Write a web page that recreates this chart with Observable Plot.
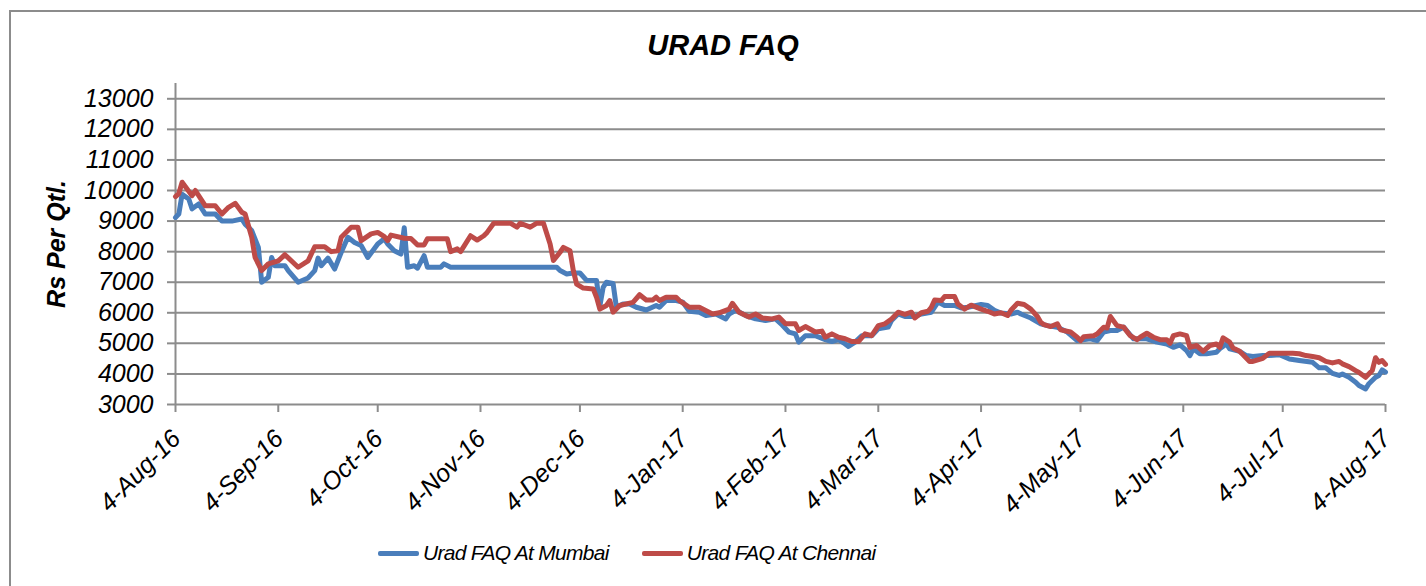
<!DOCTYPE html>
<html><head><meta charset="utf-8">
<script src="https://cdn.jsdelivr.net/npm/d3@7"></script>
<script src="https://cdn.jsdelivr.net/npm/@observablehq/plot@0.6"></script>
<style>
html,body{margin:0;padding:0;background:#fff;overflow:hidden}
#wrap{position:relative;width:1426px;height:586px;font-family:"Liberation Sans",Arial,sans-serif;overflow:hidden}
#frame{position:absolute;left:9px;top:10px;width:1500px;height:800px;border:2px solid #8c8c8c;box-sizing:border-box;pointer-events:none}
#title{width:1426px;height:70px;box-sizing:border-box;padding-top:29px;padding-left:20px;text-align:center;font-size:29px;font-weight:bold;font-style:italic;color:#000;line-height:normal}
#chart{height:450px}
#chart svg{display:block}
#chart svg text{font-style:italic}
#legend{height:66px;display:flex;align-items:center;padding-left:378px;box-sizing:border-box;font-size:21px;letter-spacing:-0.7px;font-style:italic;color:#000}
.item{display:flex;align-items:center;margin-right:33px}
.sw{display:inline-block;width:41px;height:5px;border-radius:2px;margin-right:4px}
</style>
</head><body>
<div id="wrap">
<div id="frame"></div>
<div id="title"></div>
<div id="chart"></div>
<div id="legend"></div>
</div>
<script>
const titleText = "URAD FAQ";
const yLabel = "Rs Per Qtl.";
const seriesNames = ["Urad FAQ At Mumbai", "Urad FAQ At Chennai"];
const seriesColors = ["#4a7ebb", "#be4b48"];
const yTicks = [3000,4000,5000,6000,7000,8000,9000,10000,11000,12000,13000];
const xTicks = ["2016-08-04","2016-09-04","2016-10-04","2016-11-04","2016-12-04","2017-01-04","2017-02-04","2017-03-04","2017-04-04","2017-05-04","2017-06-04","2017-07-04","2017-08-04"];

const mumbaiDates = ["2016-08-04","2016-08-05","2016-08-06","2016-08-08","2016-08-09","2016-08-11","2016-08-13","2016-08-16","2016-08-18","2016-08-21","2016-08-24","2016-08-25","2016-08-27","2016-08-29","2016-08-30","2016-09-01","2016-09-02","2016-09-03","2016-09-06","2016-09-07","2016-09-10","2016-09-13","2016-09-15","2016-09-16","2016-09-17","2016-09-19","2016-09-21","2016-09-23","2016-09-25","2016-09-27","2016-09-29","2016-10-01","2016-10-03","2016-10-04","2016-10-06","2016-10-07","2016-10-09","2016-10-11","2016-10-12","2016-10-13","2016-10-15","2016-10-16","2016-10-18","2016-10-19","2016-10-23","2016-10-24","2016-10-26","2016-11-27","2016-11-28","2016-11-30","2016-12-02","2016-12-04","2016-12-06","2016-12-09","2016-12-10","2016-12-11","2016-12-12","2016-12-14","2016-12-15","2016-12-17","2016-12-19","2016-12-21","2016-12-24","2016-12-27","2016-12-28","2016-12-30","2017-01-02","2017-01-04","2017-01-06","2017-01-09","2017-01-11","2017-01-14","2017-01-17","2017-01-18","2017-01-20","2017-01-23","2017-01-26","2017-01-29","2017-02-01","2017-02-03","2017-02-05","2017-02-07","2017-02-08","2017-02-10","2017-02-13","2017-02-16","2017-02-18","2017-02-20","2017-02-22","2017-02-23","2017-02-25","2017-02-27","2017-03-02","2017-03-04","2017-03-07","2017-03-08","2017-03-10","2017-03-12","2017-03-15","2017-03-17","2017-03-20","2017-03-22","2017-03-24","2017-03-27","2017-03-29","2017-03-31","2017-04-04","2017-04-06","2017-04-08","2017-04-10","2017-04-13","2017-04-15","2017-04-16","2017-04-19","2017-04-22","2017-04-24","2017-04-27","2017-04-30","2017-05-03","2017-05-07","2017-05-09","2017-05-11","2017-05-13","2017-05-15","2017-05-17","2017-05-20","2017-05-24","2017-05-27","2017-05-30","2017-06-01","2017-06-03","2017-06-05","2017-06-06","2017-06-07","2017-06-09","2017-06-11","2017-06-14","2017-06-15","2017-06-17","2017-06-18","2017-06-21","2017-06-23","2017-06-25","2017-06-28","2017-06-30","2017-07-03","2017-07-06","2017-07-09","2017-07-13","2017-07-15","2017-07-17","2017-07-19","2017-07-21","2017-07-22","2017-07-24","2017-07-26","2017-07-27","2017-07-29","2017-07-30","2017-08-01","2017-08-02","2017-08-03","2017-08-04"];
const mumbaiValues = [9120,9230,9880,9720,9400,9560,9230,9230,9000,9000,9070,8900,8690,8140,7000,7160,7810,7540,7540,7380,7000,7140,7380,7790,7540,7790,7430,7980,8470,8300,8200,7810,8100,8250,8420,8250,8030,7920,8780,7490,7540,7460,7870,7490,7490,7600,7490,7490,7380,7270,7300,7300,7060,7060,6210,6830,7000,6960,6180,6290,6290,6180,6090,6240,6180,6400,6400,6350,6050,6020,5910,5960,5800,5960,6080,5910,5800,5750,5800,5600,5370,5310,5040,5250,5250,5120,5060,5120,4980,4900,5040,5250,5250,5480,5530,5750,5960,5880,5880,5960,6020,6350,6240,6240,6160,6180,6270,6240,6080,5990,5960,6020,5960,5830,5640,5580,5530,5370,5090,5150,5090,5370,5420,5420,5530,5150,5150,5040,4980,4870,4950,4760,4600,4820,4660,4660,4710,4820,4980,4820,4740,4600,4570,4600,4600,4630,4490,4440,4380,4200,4200,4020,3950,4000,3890,3730,3620,3510,3680,3890,3950,4130,4060];

const chennaiDates = ["2016-08-04","2016-08-05","2016-08-06","2016-08-09","2016-08-10","2016-08-13","2016-08-16","2016-08-18","2016-08-20","2016-08-22","2016-08-24","2016-08-25","2016-08-27","2016-08-28","2016-08-30","2016-09-01","2016-09-04","2016-09-06","2016-09-10","2016-09-13","2016-09-15","2016-09-18","2016-09-20","2016-09-22","2016-09-23","2016-09-26","2016-09-28","2016-09-29","2016-10-02","2016-10-04","2016-10-06","2016-10-07","2016-10-08","2016-10-12","2016-10-14","2016-10-16","2016-10-18","2016-10-19","2016-10-25","2016-10-26","2016-10-28","2016-10-29","2016-11-01","2016-11-03","2016-11-05","2016-11-06","2016-11-08","2016-11-13","2016-11-15","2016-11-16","2016-11-19","2016-11-21","2016-11-23","2016-11-25","2016-11-26","2016-11-28","2016-11-29","2016-12-01","2016-12-02","2016-12-03","2016-12-05","2016-12-08","2016-12-09","2016-12-10","2016-12-12","2016-12-13","2016-12-14","2016-12-16","2016-12-20","2016-12-22","2016-12-24","2016-12-26","2016-12-27","2016-12-28","2016-12-30","2017-01-02","2017-01-03","2017-01-06","2017-01-09","2017-01-13","2017-01-15","2017-01-18","2017-01-19","2017-01-21","2017-01-24","2017-01-26","2017-01-28","2017-01-31","2017-02-02","2017-02-04","2017-02-07","2017-02-08","2017-02-10","2017-02-13","2017-02-15","2017-02-16","2017-02-18","2017-02-20","2017-02-22","2017-02-24","2017-02-26","2017-02-28","2017-03-02","2017-03-04","2017-03-06","2017-03-08","2017-03-10","2017-03-12","2017-03-14","2017-03-15","2017-03-17","2017-03-19","2017-03-20","2017-03-21","2017-03-23","2017-03-24","2017-03-27","2017-03-28","2017-03-30","2017-04-01","2017-04-04","2017-04-06","2017-04-08","2017-04-10","2017-04-12","2017-04-13","2017-04-15","2017-04-17","2017-04-19","2017-04-21","2017-04-22","2017-04-23","2017-04-25","2017-04-27","2017-04-28","2017-05-01","2017-05-03","2017-05-04","2017-05-05","2017-05-08","2017-05-09","2017-05-11","2017-05-12","2017-05-13","2017-05-15","2017-05-17","2017-05-19","2017-05-21","2017-05-22","2017-05-24","2017-05-26","2017-05-28","2017-05-30","2017-05-31","2017-06-01","2017-06-03","2017-06-05","2017-06-06","2017-06-08","2017-06-10","2017-06-12","2017-06-14","2017-06-15","2017-06-16","2017-06-18","2017-06-19","2017-06-21","2017-06-24","2017-06-25","2017-06-28","2017-06-30","2017-07-03","2017-07-07","2017-07-09","2017-07-11","2017-07-13","2017-07-15","2017-07-17","2017-07-19","2017-07-21","2017-07-22","2017-07-24","2017-07-26","2017-07-27","2017-07-29","2017-07-31","2017-08-01","2017-08-02","2017-08-03","2017-08-04"];
const chennaiValues = [9800,9900,10270,9830,10000,9500,9500,9230,9450,9580,9290,9230,8470,7810,7380,7600,7700,7900,7490,7700,8160,8160,8000,8030,8470,8800,8800,8360,8580,8630,8490,8360,8540,8440,8430,8220,8220,8420,8420,8000,8090,8000,8520,8380,8520,8630,8930,8930,8800,8930,8800,8930,8930,8250,7710,7980,8140,8030,7380,6940,6810,6780,6510,6120,6240,6400,6020,6240,6340,6590,6420,6420,6510,6400,6510,6510,6400,6180,6180,5960,6000,6120,6310,6020,5860,5960,5830,5800,5860,5640,5640,5420,5550,5370,5400,5200,5310,5200,5150,5060,5060,5310,5250,5580,5640,5800,6020,5950,6020,5830,6000,6050,6180,6420,6400,6530,6530,6290,6120,6250,6120,6050,5960,6000,5910,6080,6310,6270,6120,5880,5690,5610,5550,5640,5440,5370,5200,5090,5220,5250,5310,5530,5500,5880,5580,5530,5250,5120,5200,5330,5200,5120,5120,5000,5250,5310,5250,4870,4930,4740,4930,4980,4870,5180,5040,4850,4740,4410,4410,4510,4680,4680,4680,4660,4600,4570,4530,4410,4360,4410,4330,4240,4110,4050,3890,4110,4530,4380,4440,4310];

const mumbai = mumbaiDates.map((d, i) => ({date: new Date(d), value: mumbaiValues[i]}));
const chennai = chennaiDates.map((d, i) => ({date: new Date(d), value: chennaiValues[i]}));
const gridColor = "#8c8c8c";
const xTickDates = xTicks.map(d => new Date(d));

const chart = Plot.plot({
  width: 1426,
  height: 450,
  marginLeft: 175,
  marginRight: 41,
  marginTop: 13,
  marginBottom: 116,
  style: {fontFamily: "'Liberation Sans', Arial, sans-serif", background: "transparent", color: "#000"},
  x: {type: "utc", domain: [xTickDates[0], xTickDates[xTickDates.length - 1]]},
  y: {domain: [3000, 13500]},
  marks: [
    Plot.ruleY(yTicks.slice(1), {stroke: gridColor, strokeWidth: 2}),
    Plot.ruleY([3000], {stroke: gridColor, strokeWidth: 2}),
    Plot.ruleX([xTickDates[0]], {y1: 3000, y2: 13500, stroke: gridColor, strokeWidth: 2}),
    Plot.axisY({ticks: yTicks, tickSize: 8, tickPadding: 14, tickFormat: d => String(d), fontSize: 25, fontStyle: "italic", stroke: gridColor, strokeWidth: 2, fill: "#000", label: null}),
    Plot.axisX({ticks: xTickDates, tickSize: 8, tickFormat: () => "", stroke: gridColor, strokeWidth: 2, label: null}),
    Plot.axisX({ticks: xTickDates, tickSize: 0, tickPadding: 30, dx: 1, tickRotate: -45, tickFormat: d3.utcFormat("%-d-%b-%y"), fontSize: 25, fontStyle: "italic", fill: "#000", label: null}),
    Plot.text([yLabel], {frameAnchor: "left", dx: -119, rotate: -90, textAnchor: "middle", fontSize: 25, fontWeight: "bold", fontStyle: "italic", fill: "#000"}),
    Plot.line(mumbai, {x: "date", y: "value", stroke: seriesColors[0], strokeWidth: 5, strokeLinejoin: "round", strokeLinecap: "round"}),
    Plot.line(chennai, {x: "date", y: "value", stroke: seriesColors[1], strokeWidth: 5, strokeLinejoin: "round", strokeLinecap: "round"})
  ]
});
document.getElementById("chart").appendChild(chart);
document.getElementById("title").textContent = titleText;

const legend = document.getElementById("legend");
seriesNames.forEach((name, i) => {
  const item = document.createElement("div");
  item.className = "item";
  const sw = document.createElement("span");
  sw.className = "sw";
  sw.style.background = seriesColors[i];
  const t = document.createElement("span");
  t.textContent = name;
  item.appendChild(sw);
  item.appendChild(t);
  legend.appendChild(item);
});
</script>
</body></html>
